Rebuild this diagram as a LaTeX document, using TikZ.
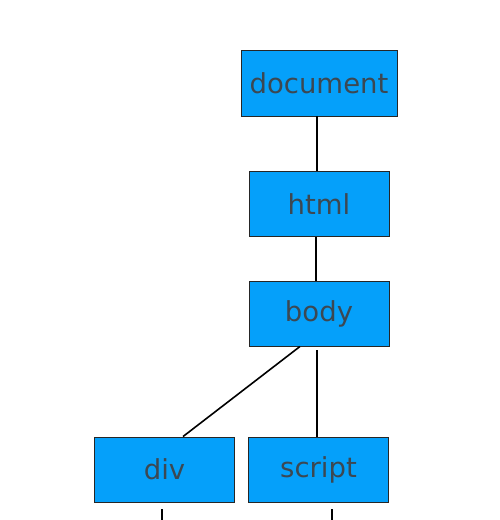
\documentclass[tikz,border=0pt]{standalone}
\usepackage{fontspec}
\setmainfont{DejaVu Sans}
\definecolor{boxblue}{RGB}{5,160,250}
\definecolor{txtgray}{RGB}{60,72,82}
\begin{document}
\begin{tikzpicture}[x=1pt,y=-1pt,
  domnode/.style={draw=black!85,line width=0.9pt,fill=boxblue,text=txtgray,
    inner sep=0pt,minimum width=140pt,minimum height=65pt,
    font=\fontsize{27.5}{32}\selectfont},
  link/.style={draw=black,line width=1.6pt}]
\useasboundingbox (0,0) rectangle (500,520);
\node[domnode,minimum width=156pt,minimum height=66pt] (doc) at (319,83) {document};
\node[domnode] (html) at (319,204) {html};
\node[domnode] (body) at (319,313.5) {body};
\node[domnode] (div) at (164.5,469.5) {div};
\node[domnode] (script) at (318.5,469.5) {script};
\coordinate (divend) at (162,520);
\coordinate (scriptend) at (332,520);
\draw[link] ([xshift=-2pt]doc.south) -- ([xshift=-2pt]html.north);
\draw[link] ([xshift=-3pt]html.south) -- ([xshift=-3pt]body.north);
\draw[link] ([xshift=-19pt]body.south) -- ([xshift=18.5pt]div.north);
\draw[link] ([xshift=-2pt,yshift=-4pt]body.south) -- ([xshift=-1.5pt]script.north);
\draw[link] ([xshift=-2.5pt,yshift=-7pt]div.south) -- (divend);
\draw[link] ([xshift=13.5pt,yshift=-7pt]script.south) -- (scriptend);
\end{tikzpicture}
\end{document}
